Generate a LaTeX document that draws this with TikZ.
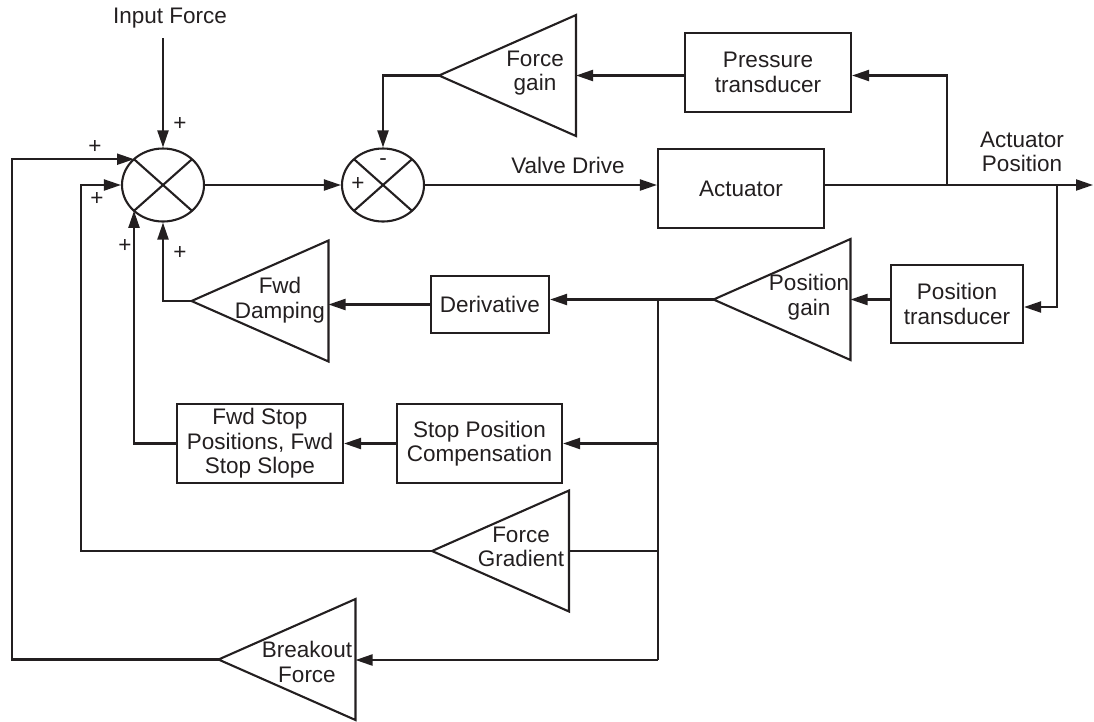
\documentclass[tikz,border=0pt]{standalone}
\usepackage{fontspec}
\setmainfont{Liberation Sans}
\usetikzlibrary{arrows.meta,shapes.geometric,calc}
\definecolor{ink}{RGB}{35,31,32}
\begin{document}
\begin{tikzpicture}[x=1pt,y=-1pt,
  line width=2.1pt, draw=ink, color=ink,
  every node/.style={font=\fontsize{22.5}{24.5}\selectfont, inner sep=0pt, text=ink},
  blk/.style={draw=ink, rectangle, align=center},
  sumj/.style={draw=ink, ellipse, minimum width=82pt, minimum height=73pt},
  tribox/.style={rectangle, outer sep=0pt, minimum width=137pt, minimum height=121pt},
  lbl/.style={align=center},
  arr/.style={-{Triangle[length=17pt,width=11pt]}},
  tri/.style={draw=ink, line join=miter},
]
\useasboundingbox (0,0) rectangle (1094,721);

% summing junctions
\node[sumj] (s1) at (163,185) {};
\node[sumj] (s2) at (383,185) {};
\foreach \s in {s1,s2}{
  \draw ([shift={(-29,-25.8)}]\s.center) -- ([shift={(29,25.8)}]\s.center);
  \draw ([shift={(29,-25.8)}]\s.center) -- ([shift={(-29,25.8)}]\s.center);
}

% boxes
\node[blk, minimum width=166pt, minimum height=79pt] (pt) at (768,72.5) {Pressure\\transducer};
\node[blk, minimum width=166pt, minimum height=79pt] (act) at (741,188.5) {Actuator};
\node[blk, minimum width=132pt, minimum height=78pt] (post) at (957,304) {Position\\transducer};
\node[blk, minimum width=118pt, minimum height=57pt] (der) at (490,304.5) {Derivative};
\node[blk, minimum width=165pt, minimum height=79pt] (spc) at (479.5,443.5) {Stop Position\\Compensation};
\node[blk, minimum width=166pt, minimum height=79pt] (fsp) at (260,443.5) {Fwd Stop\\Positions, Fwd\\Stop Slope};

% triangles (gain blocks)
\node[tribox] (fg) at (507.5,75.5) {};
\node[tribox] (pg) at (782,299.5) {};
\node[tribox] (fd) at (260,301) {};
\node[tribox] (fgr) at (500.5,551) {};
\node[tribox] (bo) at (287,659.5) {};
\foreach \t in {fg,pg,fd,fgr,bo}{
  \draw[tri] (\t.west) -- (\t.north east) -- (\t.south east) -- cycle;
}
\node[lbl] (fgt) at (535,73) {Force\\gain};
\node[lbl] (pgt) at (809,297) {Position\\gain};
\node[lbl] (fdt) at (280,300) {Fwd\\Damping};
\node[lbl] (fgrt) at (521,547) {Force\\Gradient};
\node[lbl] (bot) at (307,662) {Breakout\\Force};

% texts
\node (inf) at (170,18) {Input Force};
\node (vd) at (568,165) {Valve Drive};
\node[lbl] (ap) at (1022,152) {Actuator\\Position};
\node (p1) at (180,124) {+};
\node (p2) at (95,147) {+};
\node (p3) at (97,199) {+};
\node (p4) at (125,246) {+};
\node (p5) at (180,253) {+};
\node (p6) at (358,184) {+};
\node (m1) at (383,162) {-};

% coordinates
\coordinate (inTop) at (163,38);
\coordinate (br1) at (947,185);
\coordinate (br2) at (1057,185);
\coordinate (out) at (1093,185);
\coordinate (busT) at (658,299.5);
\coordinate (busB) at (658,660);
\coordinate (l1) at (12,159.2);
\coordinate (l2) at (81,185);
\coordinate (s1ul) at ($(s1.center)+(-29,-25.8)$);
\coordinate (s1ll) at ($(s1.center)+(-29,25.8)$);

% connectors
\draw[arr] (inTop) -- (s1.north);
\draw[arr] (s1.east) -- (s2.west);
\draw[arr] (s2.east) -- (s2.east -| act.west);
\draw[arr] (act.east |- s2.east) -- (out);
\draw[arr] (br1) |- (pt.east |- fg.east);
\draw[arr] (pt.west |- fg.east) -- (fg.east);
\draw[arr] (fg.west) -| (s2.north);
\draw[arr] (br2) |- ($(post.east)+(0,3)$);
\draw[arr] (post.west |- pg.east) -- (pg.east);
\draw[arr] (pg.west) -- (pg.west -| der.east);
\draw (busT) -- (busB);
\draw[arr] (busB) -- (busB -| bo.east);
\draw[arr] (spc.east -| busT) -- (spc.east);
\draw (fgr.east) -- (fgr.east -| busT);
\draw[arr] (der.west) -- (der.west -| fd.east);
\draw[arr] (spc.west) -- (fsp.east);
\draw[arr] (fd.west) -| (s1.south);
\draw[arr] (fsp.west) -| (s1ll);
\draw[arr] (fgr.west) -| (l2) -- (s1.west);
\draw[arr] (bo.west) -| (l1) -- (s1ul);
\end{tikzpicture}
\end{document}
